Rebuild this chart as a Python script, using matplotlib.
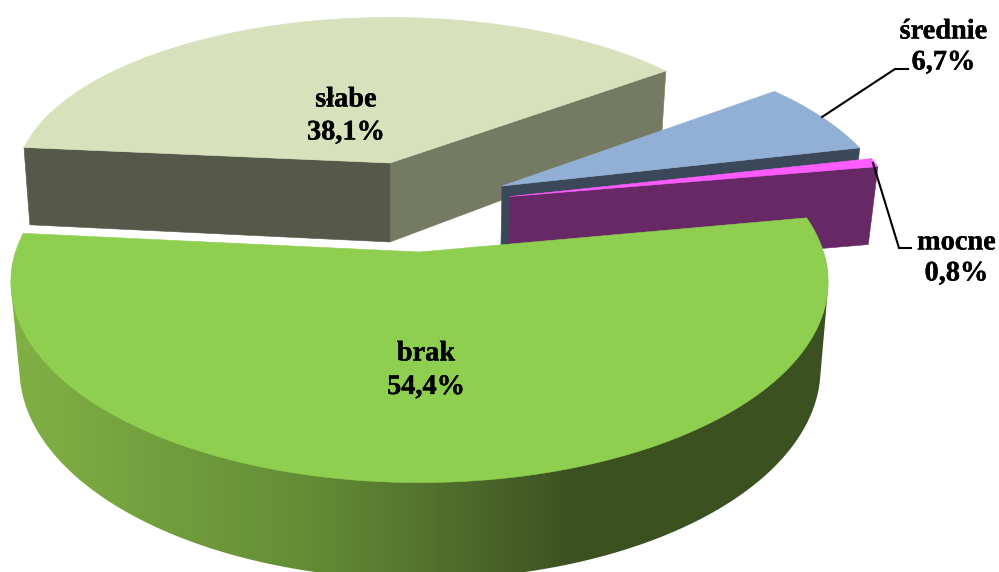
import numpy as np
import matplotlib
matplotlib.use("Agg")
import matplotlib.pyplot as plt
import matplotlib.patheffects as pe
from matplotlib.patches import Polygon

categories = ["brak", "słabe", "średnie", "mocne"]
values = [54.4, 38.1, 6.7, 0.8]
value_labels = ["54,4%", "38,1%", "6,7%", "0,8%"]
top_colors = ["#8FCF4F", "#D7E2BC", "#92B0D5", "#FF5CFF"]
side_colors = [None, "#56584A", "#3B4859", "#662966"]
slabe_right_face = "#757B62"
grad_x = [20, 120, 300, 420, 575, 830]
grad_rgb = np.array([[0x80, 0xB0, 0x44], [0x76, 0xA4, 0x3F], [0x64, 0x8E, 0x36],
                     [0x55, 0x74, 0x2E], [0x3B, 0x51, 0x20], [0x3B, 0x51, 0x20]]) / 255

START = 10.3
# per-slice projection: top apex, bottom apex, (A, B) of top and bottom discs, perspective k
views = [
    dict(top=(419.5, 252), bot=(420, 337), ab=(404, 196), abb=(396, 206), k=0.15),
    dict(top=(390, 163), bot=(390, 242), ab=(372, 163), abb=(366, 180), k=0.12),
    dict(top=(502, 186), bot=(500.5, 270), ab=(384, 175), abb=(378, 178), k=0.20),
    dict(top=(510, 196.5), bot=(508, 275), ab=(384, 172), abb=(376, 175), k=0.15),
]


def project(apex, ab, k, theta):
    t = np.radians(theta)
    X, Y = np.cos(t), np.sin(t)
    w = 1 + k * Y
    return np.column_stack([apex[0] + ab[0] * X / w, apex[1] - ab[1] * Y / w])


def convex_hull(points):
    pts = sorted(map(tuple, points))

    def half(seq):
        out = []
        for p in seq:
            while len(out) > 1 and ((out[-1][0] - out[-2][0]) * (p[1] - out[-2][1])
                                    - (out[-1][1] - out[-2][1]) * (p[0] - out[-2][0])) <= 0:
                out.pop()
            out.append(p)
        return out[:-1]

    return np.array(half(pts) + half(pts[::-1]))


fig = plt.figure(figsize=(9.99, 5.72), dpi=100)
ax = fig.add_axes([0, 0, 1, 1])
ax.axis("off")

# clockwise slice angles from the values
total = sum(values)
edges = START - np.cumsum([0] + values) / total * 360
spans = [(edges[i], edges[i + 1]) for i in range(len(values))]


def top_face(i, z):
    v = views[i]
    th = np.linspace(spans[i][0], spans[i][1], 200)
    pts = np.vstack([[v["top"]], project(v["top"], v["ab"], v["k"], th)])
    ax.add_patch(Polygon(pts, closed=True, fc=top_colors[i], ec=top_colors[i], lw=0.4, zorder=z))


def cut_face(i, theta, color, z):
    v = views[i]
    p1 = project(v["top"], v["ab"], v["k"], np.array([theta]))[0]
    p2 = project(v["bot"], v["abb"], v["k"], np.array([theta]))[0]
    ax.add_patch(Polygon([v["top"], p1, p2, v["bot"]], closed=True, fc=color, ec=color, lw=0.4, zorder=z))


# słabe
cut_face(1, spans[1][1], slabe_right_face, 1)
cut_face(1, spans[1][0], side_colors[1], 1)
top_face(1, 2)
# średnie
cut_face(2, spans[2][1], side_colors[2], 3)
top_face(2, 4)
# mocne
cut_face(3, spans[3][1], side_colors[3], 5)
top_face(3, 6)

# brak: curved side with a horizontal gradient, clipped to the hull of the front half
v = views[0]
th = np.linspace(-180, 0, 400)
up = project(v["top"], v["ab"], v["k"], th)
lo = project(v["bot"], v["abb"], v["k"], th)
outline = Polygon(convex_hull(np.vstack([up, lo])), closed=True, transform=ax.transData, fc="none", ec="none")
xs = np.arange(0, 999)
ramp = np.stack([np.interp(xs, grad_x, grad_rgb[:, c]) for c in range(3)], axis=-1)[None, :, :]
ax.add_patch(outline)
img = ax.imshow(ramp, extent=(0, 999, 572, 0), aspect="auto", interpolation="bilinear", zorder=7)
img.set_clip_path(outline)
top_face(0, 8)

ax.set_xlim(0, 999)
ax.set_ylim(572, 0)

# leaders
ax.plot([822, 895, 908], [117, 69, 69], color="black", lw=1.5, zorder=9, solid_joinstyle="miter")
ax.plot([873, 899, 911], [163, 248, 248], color="black", lw=1.5, zorder=9, solid_joinstyle="miter")

# labels
font = dict(family="Liberation Serif", weight="bold", fontsize=20.4, ha="center", va="center",
            color="black", zorder=10, path_effects=[pe.withStroke(linewidth=0.25, foreground="black")])
label_pos = [(426, 354, 387.5), (346, 100, 133), (943.5, 32, 63), (956.5, 243, 274)]
for name, val, (x, y1, y2) in zip(categories, value_labels, label_pos):
    ax.text(x, y1, name, **font)
    ax.text(x, y2, val, **font)

fig.savefig("out.png", dpi=100)
